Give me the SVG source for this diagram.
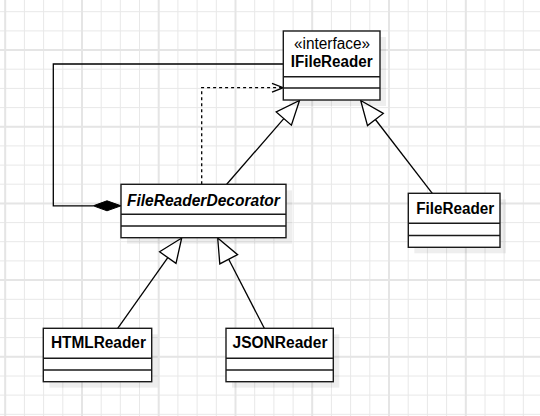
<svg xmlns="http://www.w3.org/2000/svg" width="540" height="416" viewBox="0 0 540 416">
<style>
.g{stroke:#e8e8e8;stroke-width:1;fill:none}
.gm{stroke:#e5e5e5;stroke-width:2;fill:none}
.box{fill:#fff;stroke:#1a1a1a;stroke-width:1.4}
.sh{fill:#000;fill-opacity:0.065}
.div{stroke:#1a1a1a;stroke-width:1.4;fill:none}
.t{font-family:"Liberation Sans",Arial,sans-serif;font-size:16px;fill:#000;text-anchor:middle}
.b{font-weight:bold}
.i{font-style:italic}
.c{stroke:#000;stroke-width:1.3;fill:none}
.tri{fill:#fff;stroke:#000;stroke-width:1.3;stroke-linejoin:miter}
</style>
<rect width="540" height="416" fill="#fff"/>
<g id="grid">
<path class="g" d="M5.2 0V416M24.4 0V416M43.6 0V416M62.8 0V416M82 0V416M101.2 0V416M120.3 0V416M139.5 0V416M158.7 0V416M177.9 0V416M197.1 0V416M216.3 0V416M235.5 0V416M254.7 0V416M273.9 0V416M293.1 0V416M312.2 0V416M331.4 0V416M350.6 0V416M369.8 0V416M389 0V416M408.2 0V416M427.4 0V416M446.6 0V416M465.8 0V416M485 0V416M504.1 0V416M523.3 0V416"/>
<path class="g" d="M0 11.7H540M0 30.9H540M0 50H540M0 69.2H540M0 88.4H540M0 107.6H540M0 126.7H540M0 145.9H540M0 165.1H540M0 184.2H540M0 203.4H540M0 222.6H540M0 241.7H540M0 260.9H540M0 280.1H540M0 299.3H540M0 318.4H540M0 337.6H540M0 356.8H540M0 376H540M0 395.1H540M0 414.3H540"/>
<path class="gm" d="M5.2 0V416M82 0V416M158.7 0V416M235.5 0V416M312.2 0V416M389 0V416M465.8 0V416M0 50H540M0 126.7H540M0 203.4H540M0 280.1H540M0 356.8H540"/>
</g>
<g id="connectors">
<polyline class="c" points="283.3,64 53.3,64 53.3,205.8 93.3,205.8"/>
<polygon points="121,205.8 107,200.8 93.3,205.8 107,210.8" fill="#000" stroke="#000" stroke-width="1"/>
<polyline class="c" stroke-dasharray="3 3" points="201.7,184.3 201.7,87.7 283.3,87.7"/>
<polyline class="c" points="272,83.3 283.3,87.7 272,92.1"/>
<line class="c" x1="226.7" y1="184.3" x2="283.8" y2="118.6"/>
<polygon class="tri" points="299.5,100.5 291.4,125.2 276.2,112"/>
<line class="c" x1="432.3" y1="193.3" x2="375.4" y2="119.5"/>
<polygon class="tri" points="360.7,100.5 383.3,113.4 367.5,125.6"/>
<line class="c" x1="117.7" y1="328.3" x2="167.8" y2="257.6"/>
<polygon class="tri" points="181.7,238 176,263.4 159.6,251.8"/>
<line class="c" x1="264.3" y1="328.3" x2="228.7" y2="259.3"/>
<polygon class="tri" points="217.7,238 237.6,254.7 219.8,263.9"/>
</g>
<g id="IFileReader">
<rect class="sh" x="289.3" y="37" width="96.7" height="69"/>
<rect class="box" x="283.3" y="31" width="96.7" height="69"/>
<path class="div" d="M283.3 76.7H380M283.3 88H380"/>
<text class="t" x="332" y="48.5" textLength="76" lengthAdjust="spacingAndGlyphs">«interface»</text>
<text class="t b" x="331.7" y="66.5" textLength="82" lengthAdjust="spacingAndGlyphs">IFileReader</text>
</g>
<g id="FileReaderDecorator">
<rect class="sh" x="127" y="190.3" width="165" height="53.4"/>
<rect class="box" x="121" y="184.3" width="165" height="53.4"/>
<path class="div" d="M121 214.3H286M121 226H286"/>
<text class="t b i" x="203.4" y="205.5" textLength="153" lengthAdjust="spacingAndGlyphs">FileReaderDecorator</text>
</g>
<g id="FileReader">
<rect class="sh" x="414.3" y="199.3" width="91.7" height="54"/>
<rect class="box" x="408.3" y="193.3" width="91.7" height="54"/>
<path class="div" d="M408.3 223.3H500M408.3 235.5H500"/>
<text class="t b" x="455.2" y="214.3" textLength="78" lengthAdjust="spacingAndGlyphs">FileReader</text>
</g>
<g id="HTMLReader">
<rect class="sh" x="49.3" y="334.3" width="108.4" height="53.4"/>
<rect class="box" x="43.3" y="328.3" width="108.4" height="53.4"/>
<path class="div" d="M43.3 358.3H151.7M43.3 370H151.7"/>
<text class="t b" x="98.4" y="348.3" textLength="95" lengthAdjust="spacingAndGlyphs">HTMLReader</text>
</g>
<g id="JSONReader">
<rect class="sh" x="232" y="334.3" width="107.3" height="53.4"/>
<rect class="box" x="226" y="328.3" width="107.3" height="53.4"/>
<path class="div" d="M226 358.3H333.3M226 370H333.3"/>
<text class="t b" x="280" y="348.3" textLength="95" lengthAdjust="spacingAndGlyphs">JSONReader</text>
</g>
</svg>
